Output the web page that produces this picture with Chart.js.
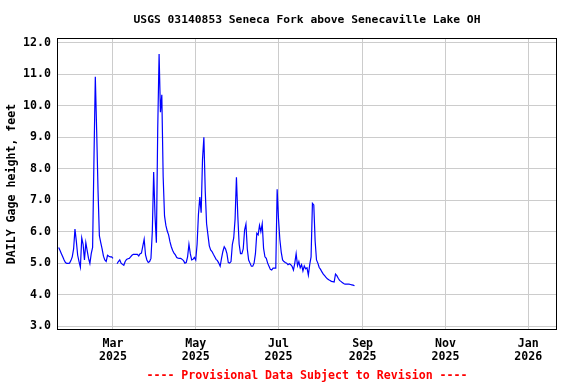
<!DOCTYPE html>
<html>
<head>
<meta charset="utf-8">
<script src="https://cdn.jsdelivr.net/npm/chart.js@4.4.1/dist/chart.umd.min.js"></script>
<style>
  html, body { margin: 0; padding: 0; background: #fff; }
  #wrap { width: 576px; height: 384px; }
</style>
</head>
<body>
<div id="wrap"><canvas id="gageChart" width="576" height="384"></canvas></div>
<script>
// x values are day numbers counted from Jan 1 2025 (= day 0)
var startDay = 19;
var gageHeight = [
  5.50, 5.40, 5.30, 5.20, 5.10, 5.02, 4.99, 4.99, 5.00, 5.08, 5.20,
  5.45, 6.08, 5.70, 5.25, 5.05, 4.87, 5.80, 5.60, 5.10, 5.65,
  5.40, 5.15, 4.99, 5.30, 5.50, 8.30, 10.93, 9.20, 7.30, 5.87,
  5.65, 5.45, 5.22, 5.10, 5.05, 5.25, 5.22, 5.20, 5.20, 5.15,
  null, null, 4.98, 5.05, 5.10, 5.00, 4.96, 4.93, 5.05, 5.12,
  5.14, 5.15, 5.20, 5.25, 5.28, 5.28, 5.28, 5.28, 5.23, 5.30,
  5.32, 5.54, 5.76, 5.26, 5.10, 5.02, 5.05, 5.15, 6.00, 7.90,
  6.50, 5.65, 9.30, 11.65, 9.80, 10.35, 7.75, 6.50, 6.20, 6.02,
  5.90, 5.68, 5.52, 5.40, 5.32, 5.26, 5.18, 5.16, 5.15, 5.15,
  5.12, 5.08, 5.00, 5.02, 5.20, 5.60, 5.30, 5.10, 5.12, 5.18,
  5.10, 5.60, 6.55, 7.10, 6.60, 8.30, 9.00, 7.30, 6.25, 5.90,
  5.55, 5.42, 5.37, 5.28, 5.20, 5.12, 5.08, 5.00, 4.90, 5.15,
  5.37, 5.52, 5.45, 5.30, 5.02, 5.00, 5.05, 5.60, 5.80, 6.40,
  7.73, 6.50, 5.60, 5.30, 5.30, 5.45, 6.05, 6.24, 5.45, 5.10,
  5.00, 4.90, 4.90, 5.00, 5.30, 5.95, 5.90, 6.20, 6.00, 6.25,
  5.47, 5.20, 5.15, 5.00, 4.90, 4.80, 4.78, 4.84, 4.84, 4.84,
  7.35, 6.40, 5.75, 5.35, 5.10, 5.05, 5.02, 5.00, 4.95, 4.98,
  4.95, 4.90, 4.78, 5.00, 5.30, 4.92, 5.05, 4.85, 4.95, 4.75,
  4.91, 4.82, 4.85, 4.62, 4.95, 5.20, 6.90, 6.85, 5.70, 5.10,
  5.00, 4.86, 4.80, 4.72, 4.65, 4.60, 4.55, 4.50, 4.47, 4.45,
  4.42, 4.41, 4.40, 4.65, 4.60, 4.52, 4.45, 4.42, 4.38, 4.35,
  4.33, 4.33, 4.33, 4.33, 4.32, 4.31, 4.30, 4.28
];
var tickDays = [59, 120, 181, 243, 304, 365];
var tickMonths = ['Mar', 'May', 'Jul', 'Sep', 'Nov', 'Jan'];
var tickYears = ['2025', '2025', '2025', '2025', '2025', '2026'];
var yTicks = [3, 4, 5, 6, 7, 8, 9, 10, 11, 12];

var points = gageHeight.map(function (v, i) { return { x: startDay + i, y: v }; });

Chart.defaults.font.family = "'DejaVu Sans Mono', monospace";
Chart.defaults.font.weight = 'bold';
Chart.defaults.font.size = 11.6;
Chart.defaults.color = '#000';

// black frame round the plot area
var frame = {
  id: 'frame',
  afterDatasetsDraw: function (chart) {
    var a = chart.chartArea, ctx = chart.ctx;
    ctx.save();
    ctx.strokeStyle = '#000';
    ctx.lineWidth = 1;
    ctx.strokeRect(a.left - 0.5, a.top - 0.5, a.right - a.left + 1, a.bottom - a.top + 1);
    ctx.restore();
  }
};

new Chart(document.getElementById('gageChart'), {
  type: 'line',
  data: {
    datasets: [{
      data: points,
      borderColor: '#0000ff',
      borderWidth: 1.2,
      pointRadius: 0,
      tension: 0,
      spanGaps: false
    }]
  },
  options: {
    responsive: false,
    animation: false,
    layout: { padding: { left: 0, right: 20, top: 0, bottom: 1 } },
    plugins: {
      legend: { display: false },
      tooltip: { enabled: false },
      title: {
        display: true,
        fullSize: false,
        text: 'USGS 03140853 Seneca Fork above Senecaville Lake OH',
        font: { size: 11.3, lineHeight: '14px' },
        padding: { top: 13, bottom: 12 }
      },
      subtitle: {
        display: true,
        fullSize: false,
        position: 'bottom',
        text: '---- Provisional Data Subject to Revision ----',
        color: '#ff0000',
        font: { size: 11.6, weight: 'bold', lineHeight: '14px' },
        padding: { top: 4, bottom: 0 }
      }
    },
    scales: {
      x: {
        type: 'linear',
        min: 18.5,
        max: 385.5,
        afterFit: function (s) { s.height = 36; },
        afterBuildTicks: function (s) { s.ticks = tickDays.map(function (d) { return { value: d }; }); },
        grid: { color: '#cccccc', drawTicks: false },
        border: { display: false },
        ticks: {
          padding: 8,
          maxRotation: 0,
          autoSkip: false,
          font: { lineHeight: '13px' },
          callback: function (v) {
            var i = tickDays.indexOf(v);
            return i < 0 ? '' : [tickMonths[i], tickYears[i]];
          }
        }
      },
      y: {
        min: 2.905,
        max: 12.127,
        afterFit: function (s) { s.width = 58; },
        afterBuildTicks: function (s) { s.ticks = yTicks.map(function (v) { return { value: v }; }); },
        grid: { color: '#cccccc', drawTicks: false },
        border: { display: false },
        ticks: {
          padding: 7,
          callback: function (v) { return v.toFixed(1); }
        },
        title: {
          display: true,
          text: 'DAILY Gage height, feet',
          font: { lineHeight: '14px' },
          padding: { top: 5, bottom: 0 }
        }
      }
    }
  },
  plugins: [frame]
});
</script>
</body>
</html>
